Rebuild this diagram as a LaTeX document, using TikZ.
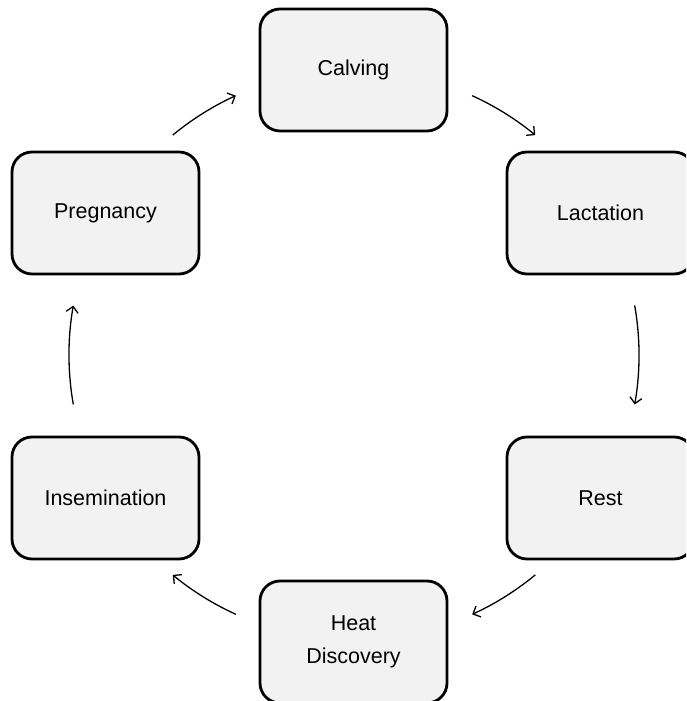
\documentclass[tikz,border=0pt]{standalone}
\usepackage{fontspec}
\setmainfont{Liberation Sans}
\usetikzlibrary{arrows.meta,calc}
\definecolor{boxfill}{HTML}{F2F2F2}
\tikzset{
  stage/.style={draw=black, line width=2.8pt, fill=boxfill, rounded corners=20pt,
    minimum width=187pt, minimum height=122pt, inner sep=0pt, align=center,
    font=\fontsize{21.5pt}{33pt}\selectfont},
  cyclearrow/.style={line width=1.3pt, -{Straight Barb[length=6pt,width=12pt,line width=1.3pt]}}
}
\begin{document}
\begin{tikzpicture}[x=1pt,y=1pt]
  \useasboundingbox (0,0) rectangle (686,701);
  \clip (0,0) rectangle (686,701);
  % stages of the cycle
  \node[stage] (calving)  at (353.5,631) {Calving};
  \node[stage] (lact)     at (600.5,488) {Lactation};
  \node[stage] (rest)     at (600.5,203) {Rest};
  \node[stage] (heat)     at (353.5,59)  {Heat\\Discovery};
  \node[stage] (insem)    at (105.5,203) {Insemination};
  \node[stage] (preg)     at (105.5,488) {Pregnancy};
  % arcs of the cycle, all on one circle around (c)
  \coordinate (c) at (354,346);
  \coordinate (a1) at ($(c)+(129.5:285)$);
  \coordinate (a2) at ($(c)+(65.5:285)$);
  \coordinate (a3) at ($(c)+(10:285)$);
  \coordinate (a4) at ($(c)+(-50.5:285)$);
  \coordinate (a5) at ($(c)+(-114.5:285)$);
  \coordinate (a6) at ($(c)+(-170:285)$);
  \draw[cyclearrow] (a1) arc[start angle=129.5, end angle=114.5, radius=285];
  \draw[cyclearrow] (a2) arc[start angle=65.5, end angle=50.5, radius=285];
  \draw[cyclearrow] (a3) arc[start angle=10, end angle=-10, radius=285];
  \draw[cyclearrow] (a4) arc[start angle=-50.5, end angle=-65.5, radius=285];
  \draw[cyclearrow] (a5) arc[start angle=-114.5, end angle=-129.5, radius=285];
  \draw[cyclearrow] (a6) arc[start angle=-170, end angle=-190, radius=285];
\end{tikzpicture}
\end{document}
